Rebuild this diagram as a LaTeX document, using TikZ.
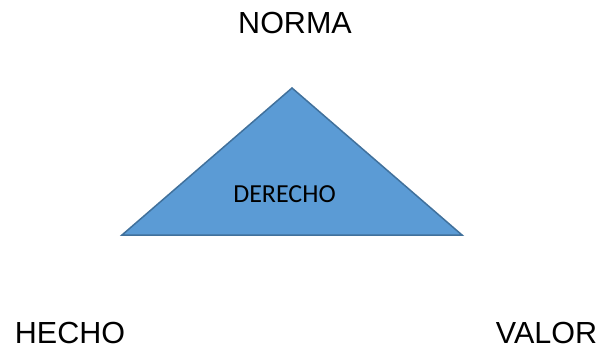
\documentclass[tikz,border=0pt]{standalone}
\usepackage{fontspec}
\setmainfont{Liberation Sans}
\newfontfamily\calibrifont{Carlito}
\definecolor{trifill}{HTML}{5B9BD5}
\definecolor{triline}{HTML}{41719C}

\begin{document}
\begin{tikzpicture}[x=1pt, y=1pt, line width=1.5pt,
    corner/.style={anchor=base, inner sep=0pt, font=\fontsize{30.5}{36}\selectfont}]
            % fix the page size
            \useasboundingbox (0, 0) rectangle (603, 349);

            %%%%%%%%
            % triangle
            %%%%%%%%

            % corners
            \coordinate (top) at (292, 261);
            \coordinate (left) at (122, 114);
            \coordinate (right) at (462, 114);

            % draw filled triangle
            \filldraw[fill=trifill, draw=triline] (left) -- (top) -- (right) -- cycle;
            \node[anchor=base, inner sep=0pt, font=\calibrifont\fontsize{26}{31}\selectfont] (derecho) at (284.5, 147) {DERECHO};

            %%%%%%%%
            % labels
            %%%%%%%%
            \node[corner] (norma) at (295, 316) {NORMA};
            \node[corner] (hecho) at (70, 6) {HECHO};
            \node[corner] (valor) at (546.5, 6) {VALOR};
        \end{tikzpicture}
\end{document}
